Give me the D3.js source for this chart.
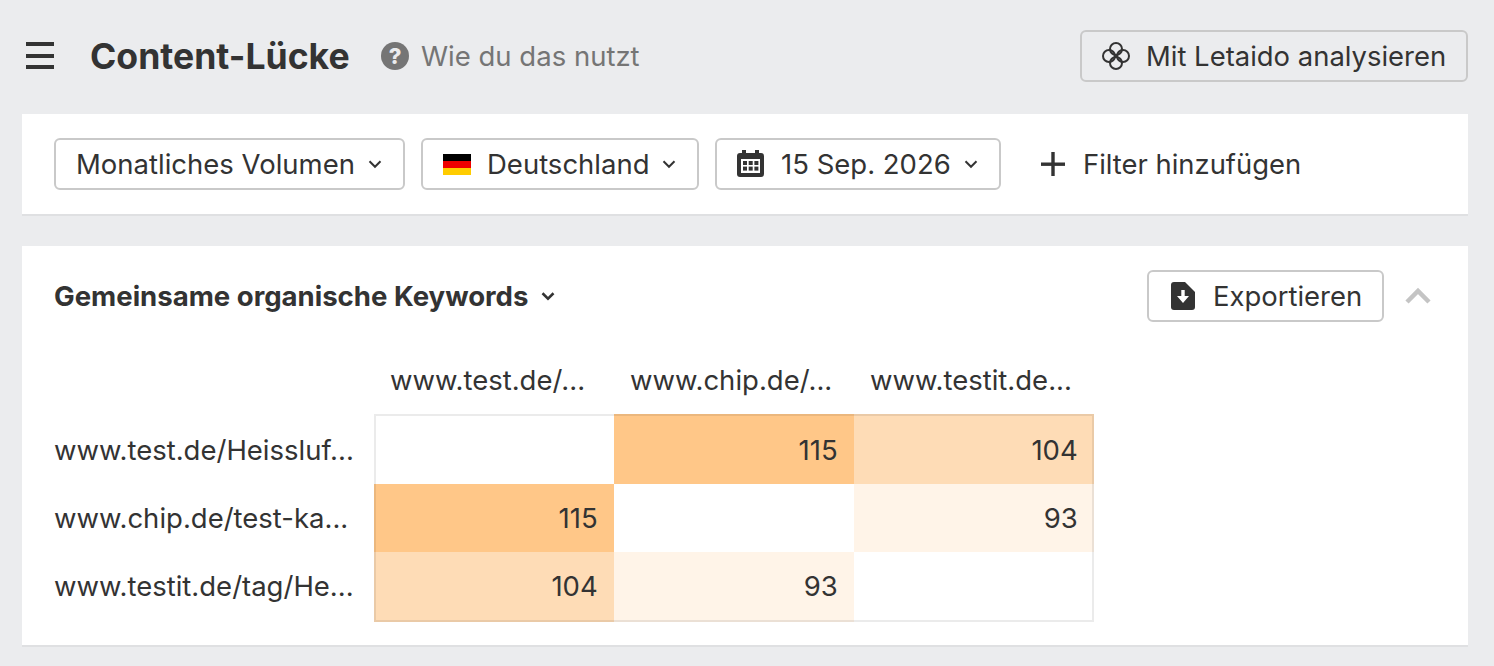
<!DOCTYPE html>
<html><head><meta charset="utf-8">
<script src="https://cdn.jsdelivr.net/npm/d3@7"></script>
<style>html,body{margin:0;padding:0;background:#ebecee;overflow:hidden}svg{display:block}text{font-family:Inter,"Noto Sans",sans-serif;fill:#333}</style>
</head><body><svg id="c" width="1494" height="666"></svg>
<script>
const columnLabels = ["www.test.de/...", "www.chip.de/...", "www.testit.de..."];
const rowLabels = ["www.test.de/Heissluf...", "www.chip.de/test-ka...", "www.testit.de/tag/He..."];
const row1Values = [null, 115, 104];
const row2Values = [115, null, 93];
const row3Values = [104, 93, null];
const legendValues = [93, 104, 115];
const legendColors = ["#fff4e8", "#fedcb6", "#ffc788"];

const svg = d3.select("#c");
const rect=(x,y,w,h,o={})=>{const r=svg.append("rect").attr("x",x).attr("y",y).attr("width",w).attr("height",h);
  for(const k in o)r.attr(k,o[k]);return r;};
const text=(x,y,s,o={})=>{const t=svg.append("text").attr("x",x).attr("y",y).text(s).attr("font-size",o.size||27.5)
  .attr("font-weight",o.w||400).attr("text-anchor",o.a||"start");
  t.style("fill",o.fill||"#333");return t;};
const btn=(x,y,w,h,fill)=>rect(x+1,y+1,w-2,h-2,{rx:5,fill:fill||"#fff",stroke:"#c9c9c9","stroke-width":2});
const chev=(cx,cy,s=5.5,col="#333",sw=2)=>svg.append("path").attr("d",`M${cx-s},${cy-s/2}L${cx},${cy+s/2}L${cx+s},${cy-s/2}`).attr("fill","none").attr("stroke",col).attr("stroke-width",sw);

// header
[44,56,67].forEach(y=>rect(26,y-2,28,4,{fill:"#333"}));
text(90,69,"Content-Lücke",{size:35.6,w:700});
svg.append("circle").attr("cx",395).attr("cy",56).attr("r",14).attr("fill","#757575");
text(395,64,"?",{size:22,w:800,a:"middle",fill:"#ebecee"});
text(421,66,"Wie du das nutzt",{size:27.5,fill:"#757575"});
btn(1080,30,388,52,"#ebecee");
[[1116,49],[1116,63],[1109,56],[1123,56]].forEach(([x,y])=>svg.append("circle").attr("cx",x).attr("cy",y).attr("r",6).attr("fill","none").attr("stroke","#333").attr("stroke-width",2));
text(1146,66,"Mit Letaido analysieren",{size:27.45});

// filter card
rect(22,114,1446,100,{fill:"#fff"});
rect(22,214,1446,2,{fill:"#dfe0e2"});
btn(54,138,351,52);
text(76,174,"Monatliches Volumen");
chev(375,164);
btn(421,138,278,52);
rect(443,154,28,7,{fill:"#000"});rect(443,161,28,7,{fill:"#e00"});rect(443,168,28,7,{fill:"#fc0"});
text(487,174,"Deutschland");
chev(669,164);
btn(715,138,286,52);
rect(737,153,27,24,{rx:3,fill:"#333"});
rect(742,150,4,5,{fill:"#333"});rect(755,150,4,5,{fill:"#333"});
rect(741,159,19,14,{fill:"#fff"});
[0,1,2].forEach(i=>[0,1].forEach(j=>rect(743+i*5.7,161+j*5.6,4,4,{fill:"#333"})));
text(781,174,"15 Sep. 2026");
chev(971,164);
rect(1041,162.5,24,3.4,{fill:"#333"});rect(1051.3,152,3.4,24,{fill:"#333"});
text(1083,174,"Filter hinzufügen",{size:27.4});

// chart card
rect(22,246,1446,400,{fill:"#fff"});
rect(22,645,1446,2,{fill:"#dfe0e2"});
text(54,306,"Gemeinsame organische Keywords",{size:27.55,w:700});
chev(548,296,5.5,"#333",2.5);
btn(1147,270,237,52);
svg.append("path").attr("d","M1171,285a3,3 0 0 1 3,-3h11l10,10v15a3,3 0 0 1 -3,3h-18a3,3 0 0 1 -3,-3z").attr("fill","#333");
svg.append("path").attr("d","M1181.3,290h3.4v6h4.3l-6,7l-6,-7h4.3z").attr("fill","#fff");
text(1213,306,"Exportieren",{size:27.45});
svg.append("path").attr("d","M1407,302L1418,291L1429,302").attr("fill","none").attr("stroke","#c4c4c4").attr("stroke-width",4.5);

// heatmap
const x=d3.scaleBand().domain(columnLabels).range([374,1094]);
const y=d3.scaleBand().domain(rowLabels).range([416,620]);
const color=d3.scaleOrdinal().domain(legendValues).range(legendColors);
const rows=[row1Values,row2Values,row3Values];
const cells=rows.flatMap((r,i)=>r.map((v,j)=>({v,i,row:rowLabels[i],col:columnLabels[j]})));
const edge=2;
svg.append("g").selectAll("rect").data(cells).join("rect")
  .attr("x",d=>x(d.col)).attr("y",d=>y(d.row)-(d.i===0?edge:0))
  .attr("width",x.bandwidth()).attr("height",d=>y.bandwidth()+(d.i===0||d.i===2?edge:0))
  .attr("fill",d=>d.v==null?"#fff":color(d.v));
svg.append("g").selectAll("text").data(cells.filter(d=>d.v!=null)).join("text")
  .attr("x",d=>x(d.col)+x.bandwidth()-16.3).attr("y",d=>y(d.row)+y.bandwidth()/2+10)
  .attr("text-anchor","end").attr("font-size",27.5).text(d=>d.v).style("fill","#333");
rect(375,415,718,206,{fill:"none",stroke:"rgba(0,0,0,0.08)","stroke-width":2});
svg.append("g").selectAll("text").data(columnLabels).join("text")
  .attr("x",d=>x(d)+16).attr("y",390).attr("font-size",27.5).text(d=>d).style("fill","#333");
svg.append("g").selectAll("text").data(rowLabels).join("text")
  .attr("x",54).attr("y",d=>y(d)+y.bandwidth()/2+10).attr("font-size",27.5).text(d=>d).style("fill","#333");
</script></body></html>
